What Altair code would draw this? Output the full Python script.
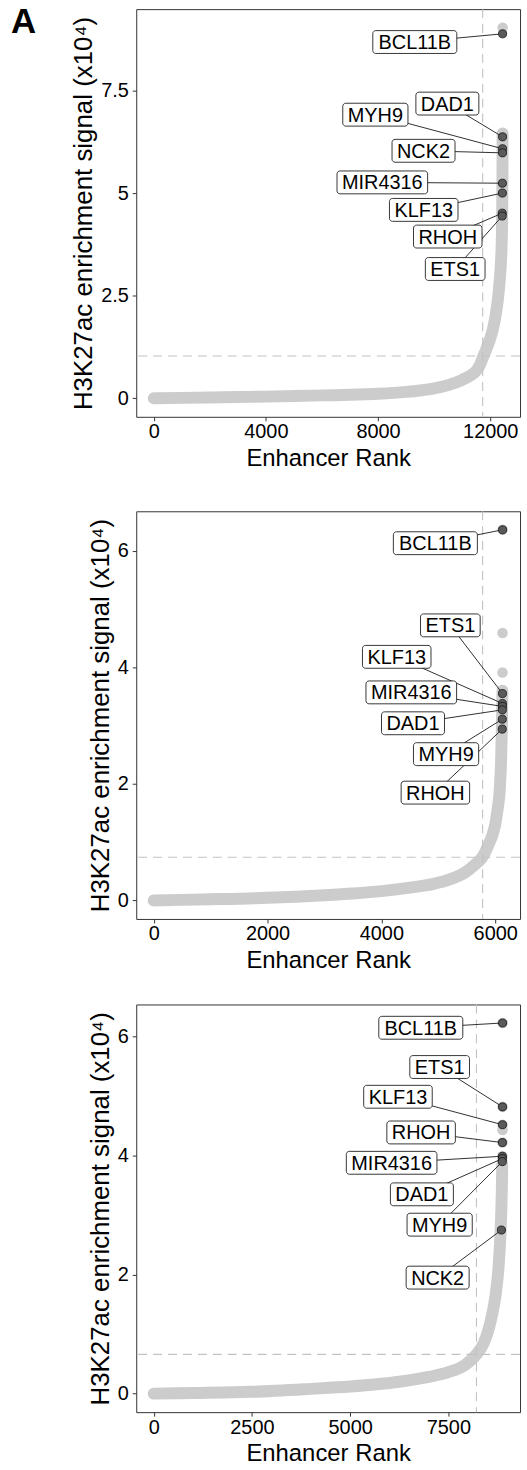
import altair as alt
import pandas as pd

FONT = "Liberation Sans"
Y_TITLE = "H3K27ac enrichment signal (x10⁴)"
X_TITLE = "Enhancer Rank"
panel_letter = ["A"]

# ---------------- Panel 1 ----------------
p1_n = 12440
p1_curve_rank = [0, 1000, 2000, 3000, 4000, 5000, 6000, 7000, 8000, 9000, 9500, 10000,
                 10500, 11000, 11300, 11500, 11650, 11730, 11850, 12000, 12100, 12200,
                 12280, 12340, 12380, 12405, 12420, 12430, 12436, 12440]
p1_curve_val = [0.0, 0.01, 0.02, 0.03, 0.04, 0.055, 0.07, 0.085, 0.11, 0.155, 0.19, 0.24,
                0.32, 0.45, 0.56, 0.67, 0.84, 0.98, 1.18, 1.46, 1.7, 2.05,
                2.45, 2.9, 3.3, 3.7, 4.2, 4.9, 5.6, 6.45]
p1_extra_rank = [12440]
p1_extra_val = [9.03]
p1_genes = ["BCL11B", "DAD1", "MYH9", "NCK2", "MIR4316", "KLF13", "RHOH", "ETS1"]
p1_gene_rank = [12440, 12439, 12438, 12437, 12434, 12433, 12428, 12427]
p1_gene_val = [8.88, 6.37, 6.08, 5.98, 5.24, 5.0, 4.51, 4.44]
p1_label_rank = [9310, 10471, 7904, 9621, 8152, 9628, 10485, 10750]
p1_label_val = [8.68, 7.18, 6.91, 6.03, 5.26, 4.59, 3.94, 3.15]
p1_cut_rank = 11730
p1_cut_val = 1.03
p1_xticks = [0, 4000, 8000, 12000]
p1_yticks = [0, 2.5, 5, 7.5]

# ---------------- Panel 2 ----------------
p2_n = 6130
p2_curve_rank = [0, 500, 1000, 2000, 3000, 3500, 4000, 4500, 4900, 5200, 5470, 5650,
                 5780, 5880, 5950, 6000, 6040, 6080, 6105, 6118, 6125, 6128]
p2_curve_val = [0.0, 0.01, 0.02, 0.045, 0.09, 0.12, 0.16, 0.22, 0.28, 0.36, 0.48, 0.62,
                0.75, 0.95, 1.12, 1.3, 1.55, 1.9, 2.45, 3.0, 3.4, 3.6]
p2_extra_rank = [6128, 6129, 6130]
p2_extra_val = [3.91, 4.59, 6.36]
p2_genes = ["BCL11B", "ETS1", "KLF13", "MIR4316", "DAD1", "MYH9", "RHOH"]
p2_gene_rank = [6130, 6128, 6127, 6127, 6126, 6125, 6124]
p2_gene_val = [6.36, 3.55, 3.38, 3.33, 3.27, 3.11, 2.94]
p2_label_rank = [4949, 5212, 4270, 4526, 4556, 5137, 4949]
p2_label_val = [6.13, 4.72, 4.18, 3.57, 3.04, 2.51, 1.85]
p2_cut_rank = 5779
p2_cut_val = 0.74
p2_xticks = [0, 2000, 4000, 6000]
p2_yticks = [0, 2, 4, 6]

# ---------------- Panel 3 ----------------
p3_n = 8880
p3_curve_rank = [0, 1000, 2500, 4000, 5000, 6250, 7000, 7500, 7920, 8215, 8400, 8510,
                 8620, 8700, 8780, 8830, 8860, 8872]
p3_curve_val = [0.0, 0.01, 0.03, 0.08, 0.12, 0.2, 0.28, 0.36, 0.48, 0.66, 0.85, 1.05,
                1.35, 1.65, 2.15, 2.75, 3.4, 3.85]
p3_extra_rank = [8873, 8874, 8876, 8877, 8878, 8879, 8880]
p3_extra_val = [3.9, 3.99, 4.22, 4.43, 4.52, 4.82, 6.23]
p3_genes = ["BCL11B", "ETS1", "KLF13", "RHOH", "MIR4316", "DAD1", "MYH9", "NCK2"]
p3_gene_rank = [8880, 8879, 8878, 8876, 8875, 8874, 8873, 8850]
p3_gene_val = [6.23, 4.82, 4.52, 4.22, 3.99, 3.95, 3.90, 2.75]
p3_label_rank = [6798, 7278, 6217, 6806, 6056, 6826, 7278, 7227]
p3_label_val = [6.15, 5.49, 4.99, 4.39, 3.88, 3.35, 2.84, 1.95]
p3_cut_rank = 8215
p3_cut_val = 0.66
p3_xticks = [0, 2500, 5000, 7500]
p3_yticks = [0, 2, 4, 6]

# approximate Helvetica/Arial advance widths (em) for sizing label boxes
CHAR_W = {"A": .667, "B": .667, "C": .722, "D": .722, "E": .667, "F": .611, "H": .722,
          "I": .278, "K": .667, "L": .556, "M": .833, "N": .722, "O": .778, "R": .722,
          "S": .667, "T": .611, "Y": .667}
LABEL_FS = 20


def box_width(s):
    return sum(CHAR_W.get(c, 0.556) for c in s) * LABEL_FS + 10


def panel(n, cr, cv, er, ev, genes, gr, gv, lr, lv, cut_r, cut_v, xt, yt, letter=False):
    ymax = max(cv + ev + gv)
    xs = alt.Scale(domain=[-0.05 * n, 1.05 * n], nice=False, zero=False)
    ys = alt.Scale(domain=[-0.05 * ymax, 1.05 * ymax], nice=False, zero=False)
    xa = alt.Axis(values=xt, format="d", title=X_TITLE, labelFlush=False)
    ya = alt.Axis(values=yt, labelExpr="'' + datum.value", title=Y_TITLE, labelFlush=False)

    def X(f):
        return alt.X(f, type="quantitative", scale=xs, axis=xa)

    def Y(f):
        return alt.Y(f, type="quantitative", scale=ys, axis=ya)

    curve_df = pd.DataFrame({"rank": cr, "value": cv})
    extra_df = pd.DataFrame({"rank": er, "value": ev})
    gene_df = pd.DataFrame({"gene": genes, "rank": gr, "value": gv})
    lab_df = pd.DataFrame({"gene": genes, "rank": gr, "value": gv, "lrank": lr, "lval": lv})

    line = alt.Chart(curve_df).mark_line(
        color="#cccccc", strokeWidth=12, strokeCap="round", strokeJoin="round",
        interpolate="monotone").encode(x=X("rank"), y=Y("value"))
    extra = alt.Chart(extra_df).mark_circle(color="#cccccc", opacity=1, size=113).encode(
        x=X("rank"), y=Y("value"))
    hline = alt.Chart(pd.DataFrame({"value": [cut_v]})).mark_rule(
        color="#c2c2c2", strokeWidth=1.1, strokeDash=[9, 6]).encode(y=Y("value"))
    vline = alt.Chart(pd.DataFrame({"rank": [cut_r]})).mark_rule(
        color="#c2c2c2", strokeWidth=1.1, strokeDash=[9, 6]).encode(x=X("rank"))
    segs = alt.Chart(lab_df).mark_rule(color="#1a1a1a", strokeWidth=0.9).encode(
        x=X("lrank"), y=Y("lval"), x2=alt.X2("rank"), y2=alt.Y2("value"))
    pts = alt.Chart(gene_df).mark_circle(
        fill="#5a5a5a", stroke="#111111", strokeWidth=0.8, size=66, opacity=1).encode(
        x=X("rank"), y=Y("value"))
    boxes = []
    for i, g in enumerate(genes):
        boxes.append(
            alt.Chart(lab_df.iloc[[i]]).mark_rect(
                width=box_width(g), height=23, cornerRadius=3, fill="white",
                stroke="#222222", strokeWidth=0.9).encode(x=X("lrank"), y=Y("lval")))
    texts = alt.Chart(lab_df).mark_text(
        font=FONT, fontSize=LABEL_FS, color="black", dy=1).encode(
        x=X("lrank"), y=Y("lval"), text="gene:N")
    layers = [line, extra, hline, vline, segs, pts] + boxes + [texts]
    if letter:
        layers.append(
            alt.Chart(pd.DataFrame({"t": panel_letter})).mark_text(
                font=FONT, fontSize=35, fontWeight="bold", align="left", baseline="top",
                color="black").encode(x=alt.value(-126), y=alt.value(-4.5), text="t:N"))
    return alt.layer(*layers).properties(width=386, height=410)


c1 = panel(p1_n, p1_curve_rank, p1_curve_val, p1_extra_rank, p1_extra_val, p1_genes,
           p1_gene_rank, p1_gene_val, p1_label_rank, p1_label_val, p1_cut_rank,
           p1_cut_val, p1_xticks, p1_yticks, letter=True)
c2 = panel(p2_n, p2_curve_rank, p2_curve_val, p2_extra_rank, p2_extra_val, p2_genes,
           p2_gene_rank, p2_gene_val, p2_label_rank, p2_label_val, p2_cut_rank,
           p2_cut_val, p2_xticks, p2_yticks)
c3 = panel(p3_n, p3_curve_rank, p3_curve_val, p3_extra_rank, p3_extra_val, p3_genes,
           p3_gene_rank, p3_gene_val, p3_label_rank, p3_label_val, p3_cut_rank,
           p3_cut_val, p3_xticks, p3_yticks)

chart = alt.vconcat(alt.vconcat(c1, c2, spacing=38), c3, spacing=29).properties(
    padding={"left": 10, "top": 0, "right": 5, "bottom": 0}
).configure_view(stroke="#333333", strokeWidth=1).configure_axis(
    domain=False, grid=False, tickColor="#333333", tickSize=4, tickWidth=1,
    labelFont=FONT, labelFontSize=20, labelColor="black",
    titleFont=FONT, titleFontSize=24, titleFontWeight="normal", titleColor="black"
).configure_axisX(labelPadding=1, titlePadding=5).configure_axisY(
    labelPadding=4, titlePadding=4, titleFontSize=26)

chart.save("out.html", embed_options={"renderer": "svg", "actions": False})
